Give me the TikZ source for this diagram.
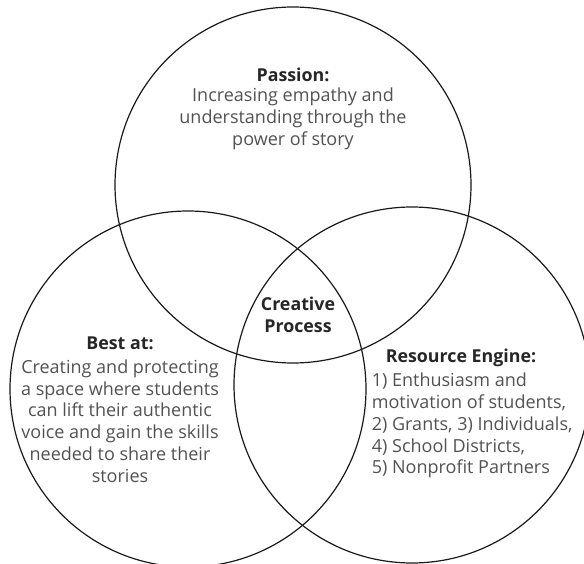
\documentclass[tikz,border=0pt]{standalone}
\usepackage{fontspec}
\setmainfont{Open Sans}
\usetikzlibrary{positioning}
\tikzset{%
  % Specifications for style of nodes:
        ring/.style = {circle, draw=black!90, line width=1.2pt,
                       minimum size=356pt, inner sep=0pt},
        head/.style = {inner sep=0pt, text=black!85,
                       font=\bfseries\fontsize{17.8}{21.7}\selectfont},
        body/.style = {inner sep=0pt, text=black!68,
                       font=\fontsize{18}{21.7}\selectfont},
}

\begin{document}
\begin{tikzpicture}[x=1pt, y=-1pt, node distance=6pt, align=center]
  \useasboundingbox (0,0) rectangle (584,564);
  \clip (0,0) rectangle (584,564);
  % Specification of the three circles
  \node (passion)  [ring] at (293,185) {};
  \node (bestat)   [ring] at (188,389) {};
  \node (resource) [ring] at (412,385) {};
  % Specification of the texts inside them
  \node (passionhead) [head] at (293,75) {Passion:};
  \node (passiontext) [body, below=of passionhead]
        {Increasing empathy and\\understanding through the\\power of story};
  \node (bestathead)  [head] at (120,343) {Best at:};
  \node (bestattext)  [body, below=10pt of bestathead]
        {Creating and protecting\\a space where students\\can lift their authentic\\voice
         and gain the skills\\needed to share their\\stories};
  \node (creative)    [head] at (298,315) {Creative\\Process};
  \node (resourcehead) [head] at (461,358) {Resource Engine:};
  \node (resourcetext) [body, align=left, below=of resourcehead.south west,
        anchor=north west, xshift=-14pt]
        {1) Enthusiasm and\\motivation of students,\\2) Grants, 3) Individuals,\\4)
         School Districts,\\5) Nonprofit Partners};
\end{tikzpicture}
\end{document}
